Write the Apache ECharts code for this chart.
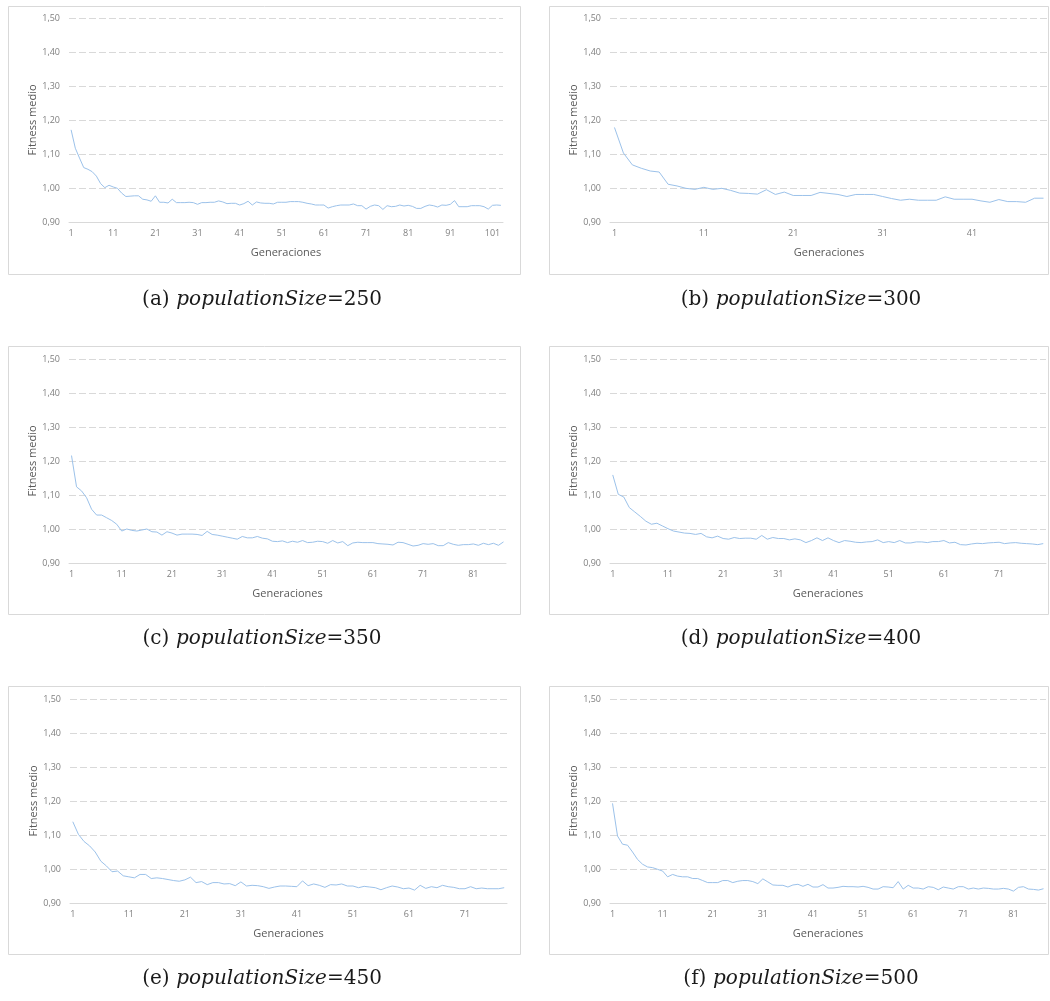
<!DOCTYPE html>
<html>
<head>
<meta charset="utf-8">
<script src="https://cdn.jsdelivr.net/npm/echarts@6/dist/echarts.min.js"></script>
<style>
html,body{margin:0;padding:0;background:#fff;}
#chart{width:1050px;height:1001px;}
</style>
</head>
<body>
<div id="chart"></div>
<script>
// ---- data ----
const fitness250 = [1.171,1.117,1.088,1.060,1.055,1.048,1.035,1.013,1.001,1.008,
 1.003,0.999,0.985,0.975,0.976,0.977,0.977,0.967,0.965,0.961,
 0.977,0.958,0.958,0.956,0.967,0.957,0.957,0.957,0.958,0.957,
 0.952,0.957,0.957,0.958,0.958,0.962,0.959,0.954,0.955,0.955,
 0.950,0.954,0.961,0.950,0.959,0.956,0.955,0.955,0.953,0.958,
 0.958,0.958,0.960,0.960,0.960,0.958,0.955,0.953,0.950,0.950,
 0.950,0.941,0.945,0.948,0.950,0.950,0.950,0.953,0.948,0.948,
 0.938,0.946,0.950,0.948,0.937,0.948,0.945,0.946,0.950,0.947,
 0.949,0.946,0.940,0.940,0.946,0.950,0.948,0.944,0.950,0.949,
 0.952,0.963,0.945,0.945,0.945,0.948,0.948,0.948,0.945,0.938,
 0.949,0.950,0.949];
const fitness300 = [1.178,1.103,1.068,1.058,1.050,1.047,1.011,1.006,0.999,0.996,
 1.002,0.996,0.999,0.993,0.985,0.984,0.982,0.995,0.981,0.988,
 0.978,0.978,0.978,0.987,0.984,0.981,0.975,0.981,0.981,0.981,
 0.975,0.969,0.964,0.967,0.964,0.964,0.964,0.974,0.967,0.967,
 0.967,0.962,0.958,0.966,0.960,0.960,0.958,0.970,0.970];
const fitness350 = [1.216,1.124,1.112,1.092,1.058,1.041,1.041,1.033,1.025,1.014,
 0.994,1.000,0.996,0.994,0.997,1.000,0.992,0.991,0.982,0.992,
 0.988,0.982,0.985,0.985,0.985,0.984,0.981,0.993,0.984,0.982,
 0.979,0.976,0.973,0.970,0.978,0.974,0.974,0.978,0.973,0.971,
 0.964,0.963,0.965,0.960,0.964,0.961,0.966,0.960,0.961,0.964,
 0.963,0.958,0.966,0.959,0.963,0.951,0.959,0.961,0.960,0.960,
 0.960,0.957,0.956,0.955,0.953,0.961,0.960,0.955,0.950,0.952,
 0.957,0.955,0.957,0.951,0.951,0.960,0.955,0.952,0.954,0.954,
 0.956,0.952,0.958,0.954,0.958,0.952,0.962];
const fitness400 = [1.159,1.102,1.094,1.063,1.050,1.037,1.023,1.014,1.017,1.009,
 1.001,0.994,0.991,0.988,0.987,0.984,0.987,0.977,0.974,0.979,
 0.972,0.970,0.975,0.972,0.973,0.973,0.970,0.981,0.970,0.975,
 0.972,0.972,0.968,0.971,0.968,0.960,0.966,0.974,0.966,0.974,
 0.966,0.960,0.966,0.964,0.961,0.960,0.962,0.963,0.968,0.960,
 0.963,0.960,0.966,0.959,0.959,0.962,0.962,0.960,0.963,0.963,
 0.966,0.959,0.961,0.954,0.953,0.956,0.958,0.957,0.959,0.960,
 0.961,0.957,0.959,0.960,0.958,0.957,0.956,0.954,0.957];
const fitness450 = [1.139,1.102,1.081,1.068,1.050,1.023,1.009,0.992,0.994,0.980,
 0.977,0.974,0.984,0.984,0.972,0.974,0.972,0.969,0.966,0.964,
 0.968,0.976,0.960,0.963,0.954,0.960,0.960,0.956,0.957,0.951,
 0.962,0.950,0.952,0.951,0.948,0.943,0.947,0.950,0.950,0.949,
 0.948,0.965,0.951,0.956,0.952,0.946,0.954,0.953,0.956,0.950,
 0.950,0.945,0.949,0.947,0.945,0.939,0.945,0.950,0.947,0.942,
 0.944,0.938,0.952,0.943,0.948,0.945,0.952,0.948,0.946,0.942,
 0.942,0.948,0.942,0.944,0.942,0.942,0.942,0.945];
const fitness500 = [1.193,1.097,1.073,1.070,1.050,1.028,1.014,1.006,1.004,0.999,
 0.994,0.977,0.984,0.979,0.977,0.977,0.972,0.972,0.966,0.960,
 0.960,0.960,0.966,0.966,0.960,0.964,0.966,0.966,0.963,0.957,
 0.971,0.962,0.953,0.952,0.952,0.947,0.953,0.955,0.949,0.955,
 0.947,0.947,0.954,0.944,0.944,0.946,0.949,0.948,0.948,0.947,
 0.949,0.946,0.941,0.941,0.948,0.947,0.945,0.963,0.941,0.952,
 0.944,0.944,0.941,0.948,0.946,0.939,0.947,0.944,0.941,0.948,
 0.948,0.941,0.944,0.941,0.944,0.943,0.941,0.941,0.943,0.941,
 0.935,0.946,0.948,0.941,0.940,0.938,0.942];

const panelSeries = [fitness250, fitness300, fitness350, fitness400, fitness450, fitness500];
const panelLetters = ['(a)', '(b)', '(c)', '(d)', '(e)', '(f)'];
const panelSizes = ['250', '300', '350', '400', '450', '500'];
const yTicks = [0.9, 1.5, 0.1]; // min, max, interval
const yAxisTitle = 'Fitness medio';
const xAxisTitle = 'Generaciones';
const captionWord = 'populationSize';

// ---- layout ----
const gridBoxes = [
  {left: 69, right: 503, top: 18},
  {left: 610, right: 1048, top: 18},
  {left: 69, right: 506, top: 359},
  {left: 610, right: 1046, top: 359},
  {left: 70, right: 507, top: 699},
  {left: 610, right: 1046, top: 699}
];
const plotH = 204;
const frames = [
  {x: 8, y: 6}, {x: 549, y: 6},
  {x: 8, y: 346}, {x: 549, y: 346},
  {x: 8, y: 686}, {x: 549, y: 686}
];
const frameW = [512, 499, 512, 499, 512, 499];
const frameH = 268;
const captionPos = [
  {x: 262, y: 300}, {x: 801, y: 300},
  {x: 262, y: 639}, {x: 801, y: 639},
  {x: 262, y: 979}, {x: 801, y: 979}
];

const grids = [], xAxes = [], yAxes = [], series = [], graphics = [];
panelSeries.forEach((vals, k) => {
  const g = gridBoxes[k];
  const cats = vals.map((_, i) => String(i + 1));
  grids.push({left: g.left, top: g.top, width: g.right - g.left, height: plotH, containLabel: false});
  xAxes.push({
    type: 'category', gridIndex: k, data: cats, boundaryGap: true,
    axisLine: {lineStyle: {color: '#d9d9d9', width: 1}},
    axisTick: {show: false},
    axisLabel: {interval: 9, color: '#808080', fontFamily: 'Open Sans', fontSize: 9, margin: 7},
    name: xAxisTitle, nameLocation: 'middle', nameGap: 25,
    nameTextStyle: {color: '#595959', fontFamily: 'Open Sans', fontSize: 11}
  });
  yAxes.push({
    type: 'value', gridIndex: k, min: yTicks[0], max: yTicks[1], interval: yTicks[2],
    axisLine: {show: false}, axisTick: {show: false},
    splitLine: {lineStyle: {color: '#d9d9d9', type: [7, 3], width: 1}},
    axisLabel: {color: '#808080', fontFamily: 'Open Sans', fontSize: 9, margin: 9,
      formatter: v => v.toFixed(2).replace('.', ',')},
    name: yAxisTitle, nameLocation: 'middle', nameGap: 31, nameRotate: 90,
    nameTextStyle: {color: '#595959', fontFamily: 'Open Sans', fontSize: 11}
  });
  series.push({
    type: 'line', xAxisIndex: k, yAxisIndex: k, data: vals,
    showSymbol: false, symbol: 'none', silent: true,
    lineStyle: {color: '#9cc2ea', width: 1}
  });
  graphics.push({
    type: 'rect', silent: true, z: -1,
    shape: {x: frames[k].x + 0.5, y: frames[k].y + 0.5, width: frameW[k], height: frameH},
    style: {fill: 'none', stroke: '#d9d9d9', lineWidth: 1}
  });
  graphics.push({
    type: 'text', silent: true,
    x: captionPos[k].x, y: captionPos[k].y,
    style: {
      text: '{n|' + panelLetters[k] + '}  {i|' + captionWord + '}{n|=' + panelSizes[k] + '}',
      align: 'center', verticalAlign: 'middle',
      rich: {
        n: {fontFamily: 'DejaVu Serif', fontSize: 20, fill: '#1a1a1a'},
        i: {fontFamily: 'DejaVu Serif', fontStyle: 'italic', fontSize: 20, fill: '#1a1a1a'}
      }
    }
  });
});

const chart = echarts.init(document.getElementById('chart'), null, {renderer: 'canvas'});
chart.setOption({
  animation: false,
  backgroundColor: '#ffffff',
  grid: grids, xAxis: xAxes, yAxis: yAxes, series: series,
  graphic: graphics
});
</script>
</body>
</html>
